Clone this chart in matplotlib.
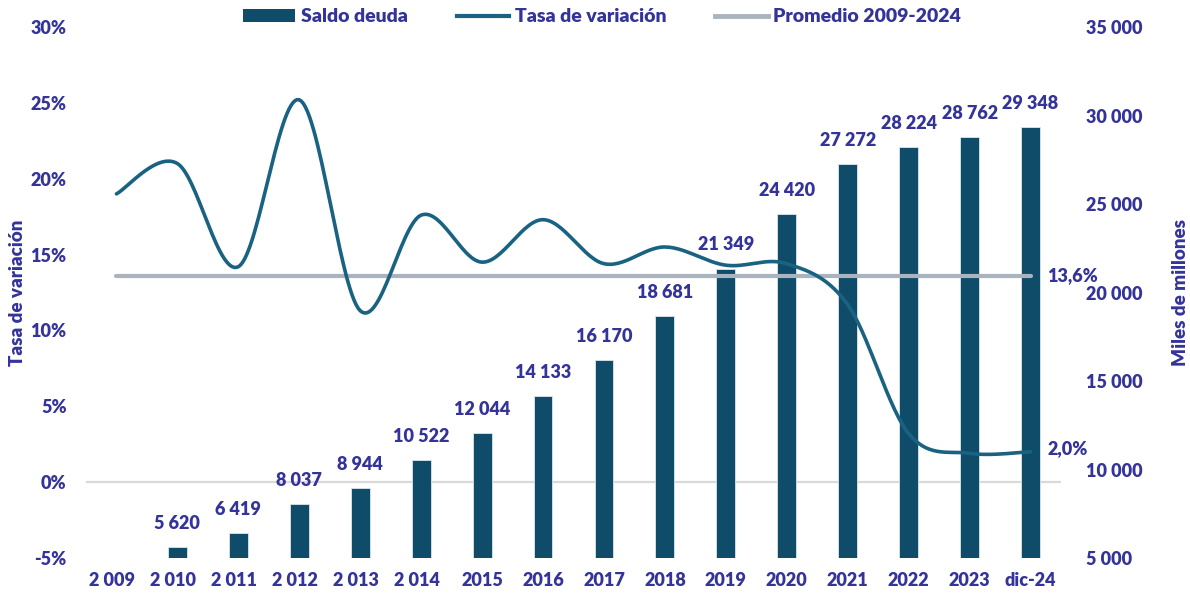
import numpy as np
import matplotlib
matplotlib.use("Agg")
import matplotlib.pyplot as plt
from matplotlib.lines import Line2D
from matplotlib.patches import Patch

# ---- data ----
categories = ["2 009  ", "2 010  ", "2 011  ", "2 012  ", "2 013  ", "2 014  ",
              "2015", "2016", "2017", "2018", "2019", "2020", "2021", "2022",
              "2023", "dic-24"]
saldo_deuda = [4645, 5620, 6419, 8037, 8944, 10522, 12044, 14133, 16170,
               18681, 21349, 24420, 27272, 28224, 28762, 29348]
tasa_variacion = [19.0, 21.0, 14.2, 25.2, 11.3, 17.6, 14.5, 17.3, 14.4,
                  15.5, 14.3, 14.4, 11.7, 3.2, 1.9, 2.0]
promedio = 13.6
left_ticks = [-5, 0, 5, 10, 15, 20, 25, 30]
right_ticks = [5000, 10000, 15000, 20000, 25000, 30000, 35000]

# ---- style ----
TXT = "#33339A"
BAR = "#0F4C69"
LINE = "#1A6282"
GRAY = "#A9B4BE"
FONT = "Lato"
W = "heavy"
plt.rcParams["font.family"] = [FONT, "DejaVu Sans"]
plt.rcParams["font.weight"] = W


def fmt_thousands(v):
    return f"{int(round(v)):,}".replace(",", " ")


def smooth(xs, ys, n=30):
    """Bezier smoothing of a line through its points (drawing only)."""
    xs = np.asarray(xs, float)
    ys = np.asarray(ys, float)
    P = np.column_stack([xs, ys])
    Pext = np.vstack([P[0], P, P[-1]])
    out = []
    for i in range(len(P) - 1):
        p0, p1, p2, p3 = Pext[i], Pext[i + 1], Pext[i + 2], Pext[i + 3]
        c1 = p1 + (p2 - p0) / 6.0
        c2 = p2 - (p3 - p1) / 6.0
        t = np.linspace(0, 1, n, endpoint=(i == len(P) - 2))[:, None]
        seg = ((1 - t) ** 3) * p1 + 3 * ((1 - t) ** 2) * t * c1 + 3 * (1 - t) * t ** 2 * c2 + t ** 3 * p2
        out.append(seg)
    out = np.vstack(out)
    return out[:, 0], out[:, 1]


fig = plt.figure(figsize=(11.9, 5.99), dpi=100)
AX_L, AX_R, AX_T, AX_B = 86, 1061, 27, 558
ax = fig.add_axes([AX_L / 1190, 1 - AX_B / 599, (AX_R - AX_L) / 1190, (AX_B - AX_T) / 599])
ax2 = ax.twinx()

x = np.arange(len(categories))
RATE_LIM = (-5, 30)
BAR_LIM = (5000, 35000)

# bars on ax (rendered below), shown with right-side ticks
ax.set_ylim(*BAR_LIM)
ax.set_xlim(-0.5, len(categories) - 0.5)
# 0% line of the rate axis, drawn below the bar labels
zero_frac = (0 - RATE_LIM[0]) / (RATE_LIM[1] - RATE_LIM[0])
ax.axhline(BAR_LIM[0] + zero_frac * (BAR_LIM[1] - BAR_LIM[0]), color="#D9D9D9",
           linewidth=1.6, zorder=1)
ax.bar(x, saldo_deuda, width=0.31, color=BAR, edgecolor="#DCE6EC", linewidth=0.6, zorder=2)
for xi, v in zip(x, saldo_deuda):
    if v > BAR_LIM[0]:
        ax.annotate(fmt_thousands(v), (xi, v), xytext=(0, 11), textcoords="offset points",
                    ha="center", va="bottom", color=TXT, fontsize=13, fontweight=W, zorder=5)
ax.yaxis.tick_right()
ax.set_yticks(right_ticks)
ax.set_yticklabels([fmt_thousands(t) for t in right_ticks])
ax.tick_params(axis="y", length=0, pad=18, labelsize=13, labelcolor=TXT)
for lbl in ax.get_yticklabels():
    lbl.set_ha("left")
ax.set_xticks(x)
ax.set_xticklabels(categories)
ax.tick_params(axis="x", length=0, pad=10, labelsize=13, labelcolor=TXT)
ax.text((1180 - AX_L) / (AX_R - AX_L), 0.5, "Miles de millones", transform=ax.transAxes,
        rotation=90, ha="center", va="center", color=TXT, fontsize=13.5, fontweight=W)
for s in ax.spines.values():
    s.set_visible(False)

# lines on ax2 (rendered on top), shown with left-side ticks
ax2.set_ylim(*RATE_LIM)
ax2.plot(x, [promedio] * len(x), color=GRAY, linewidth=3, solid_capstyle="round", zorder=3)
sx, sy = smooth(x, tasa_variacion)
ax2.plot(sx, sy, color=LINE, linewidth=2.6, solid_capstyle="round", zorder=4)
ax2.yaxis.tick_left()
ax2.set_yticks(left_ticks)
ax2.set_yticklabels([f"{t}%" for t in left_ticks])
ax2.tick_params(axis="y", length=0, pad=14, labelsize=13, labelcolor=TXT)
ax2.text((17 - AX_L) / (AX_R - AX_L), 0.5, "Tasa de variación", transform=ax2.transAxes,
         rotation=90, ha="center", va="center", color=TXT, fontsize=13.5, fontweight=W)
for s in ax2.spines.values():
    s.set_visible(False)

ax2.annotate(f"{promedio:.1f}%".replace(".", ","), (x[-1], promedio), xytext=(12, 0),
             textcoords="offset points", ha="left", va="center", color=TXT,
             fontsize=13, fontweight=W)
ax2.annotate(f"{tasa_variacion[-1]:.1f}%".replace(".", ","), (x[-1], tasa_variacion[-1]),
             xytext=(12, 2), textcoords="offset points", ha="left", va="center",
             color=TXT, fontsize=13, fontweight=W)

handles = [Patch(facecolor=BAR, edgecolor="none"),
           Line2D([0], [0], color=LINE, linewidth=3),
           Line2D([0], [0], color=GRAY, linewidth=3.5)]
labels = ["Saldo deuda", "Tasa de variación", "Promedio 2009-2024"]
leg = fig.legend(handles, labels, loc="center", bbox_to_anchor=(602 / 1190, 1 - 17 / 599),
                 ncol=3, frameon=False, fontsize=14, handlelength=2.7, handleheight=0.62,
                 columnspacing=2.5, handletextpad=0.3, borderpad=0, borderaxespad=0)
for t in leg.get_texts():
    t.set_color(TXT)
    t.set_fontweight(W)

fig.savefig("out.png", dpi=100)
